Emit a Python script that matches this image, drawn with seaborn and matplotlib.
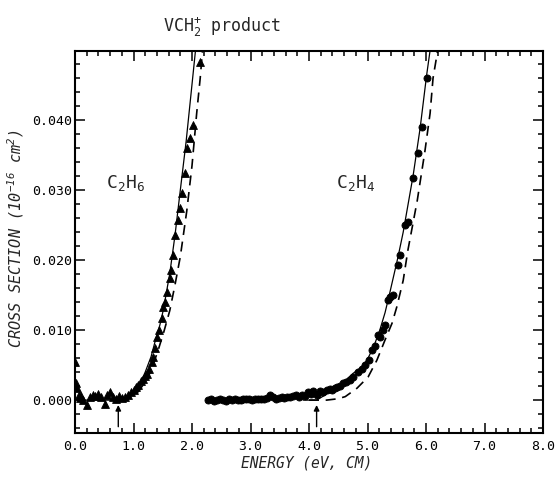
import numpy as np
import pandas as pd
import matplotlib
matplotlib.use("Agg")
import matplotlib.pyplot as plt
import seaborn as sns
from matplotlib.ticker import MultipleLocator

# ---- data ----
# C2H6 data (triangles)
x6 = [0.00, 0.02, 0.04, 0.06, 0.08, 0.10, 0.14, 0.20, 0.25, 0.30, 0.35, 0.40, 0.45, 0.51, 0.55,
      0.60, 0.65, 0.70, 0.75, 0.80, 0.85, 0.90, 0.95, 1.00, 1.04, 1.08, 1.12, 1.16, 1.20, 1.23,
      1.27, 1.31, 1.34, 1.37, 1.40, 1.44, 1.48, 1.51, 1.54, 1.58, 1.62, 1.64, 1.68, 1.71, 1.76,
      1.80, 1.83, 1.88, 1.91, 1.97, 2.02, 2.14]
y6 = [0.0054, 0.0025, 0.0018, 0.0008, 0.0003, 0.0006, 0.0000, -0.0007, 0.0005, 0.0008, 0.0006,
      0.0009, 0.0005, -0.0005, 0.0007, 0.0011, 0.0005, 0.0002, 0.0006, 0.0003, 0.0004, 0.0007,
      0.0012, 0.0014, 0.0019, 0.0022, 0.0027, 0.0030, 0.0034, 0.0038, 0.0045, 0.0054, 0.0062,
      0.0075, 0.0090, 0.0100, 0.0118, 0.0133, 0.0140, 0.0155, 0.0174, 0.0186, 0.0207, 0.0236,
      0.0257, 0.0275, 0.0296, 0.0324, 0.0361, 0.0374, 0.0393, 0.0483]

# C2H4 data (circles)
x4 = [2.28, 2.33, 2.38, 2.43, 2.48, 2.53, 2.58, 2.63, 2.68, 2.73, 2.78, 2.83, 2.88, 2.93, 2.98,
      3.03, 3.08, 3.13, 3.18, 3.23, 3.28, 3.33, 3.38, 3.43, 3.48, 3.53, 3.58, 3.63, 3.68, 3.73,
      3.78, 3.83, 3.88, 3.93, 3.98, 4.03, 4.07, 4.13, 4.18, 4.24, 4.30, 4.36, 4.39, 4.44, 4.48,
      4.53, 4.58, 4.64, 4.70, 4.76, 4.84, 4.90, 4.96, 5.02, 5.08, 5.13, 5.18, 5.21, 5.26, 5.30,
      5.35, 5.38, 5.44, 5.52, 5.56, 5.64, 5.69, 5.78, 5.86, 5.93, 6.02]
y4 = [0.0000, 0.0001, -0.0001, 0.0000, 0.0001, 0.0000, -0.0001, 0.0001, 0.0000, 0.0001,
      0.0000, 0.0000, 0.0001, 0.0002, 0.0001, 0.0000, 0.0001, 0.0002, 0.0001, 0.0002,
      0.0003, 0.0007, 0.0004, 0.0002, 0.0003, 0.0004, 0.0003, 0.0005, 0.0004, 0.0006,
      0.0008, 0.0005, 0.0007, 0.0006, 0.0011, 0.0009, 0.0013, 0.0008, 0.0013, 0.0011,
      0.0015, 0.0016, 0.0014, 0.0017, 0.0019, 0.0020, 0.0024, 0.0026, 0.0029, 0.0033,
      0.0040, 0.0044, 0.0050, 0.0058, 0.0071, 0.0078, 0.0093, 0.0090, 0.0100, 0.0107,
      0.0143, 0.0147, 0.0150, 0.0193, 0.0207, 0.0250, 0.0254, 0.0317, 0.0353, 0.0390, 0.0461]

# model curves (solid and dashed)
fit6_solid_x = [0.00, 0.76, 0.85, 0.95, 1.06, 1.20, 1.30, 1.37, 1.45, 1.51, 1.62, 1.71, 1.80, 1.90, 1.98, 2.06]
fit6_solid_y = [0.0, 0.0, 0.0002, 0.0006, 0.0014, 0.0040, 0.0062, 0.0084, 0.0107, 0.0129, 0.0181,
                0.0236, 0.0300, 0.0370, 0.0435, 0.0500]
fit6_dash_x = [0.80, 0.90, 1.06, 1.23, 1.32, 1.42, 1.52, 1.62, 1.71, 1.80, 1.91, 2.00, 2.08, 2.14, 2.18]
fit6_dash_y = [0.0, 0.0002, 0.0010, 0.0029, 0.0047, 0.0071, 0.0098, 0.0128, 0.0165, 0.0205,
               0.0270, 0.0335, 0.0410, 0.0460, 0.0500]
fit4_solid_x = [3.90, 4.13, 4.25, 4.48, 4.62, 4.75, 4.88, 4.99, 5.10, 5.21, 5.30, 5.38, 5.52,
                5.61, 5.78, 5.90, 6.01, 6.07]
fit4_solid_y = [0.0, 0.0, 0.0006, 0.0019, 0.0028, 0.0038, 0.0046, 0.0057, 0.0075, 0.0100,
                0.0125, 0.0153, 0.0204, 0.0240, 0.0321, 0.0389, 0.0464, 0.0500]
fit4_dash_x = [4.00, 4.30, 4.50, 4.62, 4.82, 5.01, 5.16, 5.30, 5.42, 5.50, 5.61, 5.69, 5.85,
               5.98, 6.07, 6.12, 6.20]
fit4_dash_y = [0.0, 0.0, 0.0002, 0.0005, 0.0017, 0.0033, 0.0057, 0.0086, 0.0110, 0.0133,
               0.0171, 0.0214, 0.0285, 0.0355, 0.0410, 0.0460, 0.0500]

thresholds = [0.74, 4.13]

xticks = [0, 1, 2, 3, 4, 5, 6, 7, 8]
xticklabels = ["0.0", "1.0", "2.0", "3.0", "4.0", "5.0", "6.0", "7.0", "8.0"]
yticks = [0.0, 0.01, 0.02, 0.03, 0.04]
yticklabels = ["0.000", "0.010", "0.020", "0.030", "0.040"]

# ---- style ----
sns.set_style("ticks")
plt.rcParams["font.family"] = ["DejaVu Sans Mono", "DejaVu Sans"]
plt.rcParams["mathtext.default"] = "regular"

fig = plt.figure(figsize=(5.59, 4.86), dpi=100)
ax = fig.add_axes([75 / 559, 1 - 433 / 486, (543 - 75) / 559, (433 - 51) / 486])

d6 = pd.DataFrame({"E": x6, "S": y6})
d4 = pd.DataFrame({"E": x4, "S": y4})

sns.lineplot(x=fit6_solid_x, y=fit6_solid_y, ax=ax, color="k", lw=0.9, sort=False, estimator=None)
sns.lineplot(x=fit4_solid_x, y=fit4_solid_y, ax=ax, color="k", lw=0.9, sort=False, estimator=None)
ax.plot(fit6_dash_x, fit6_dash_y, color="k", lw=1.2, dashes=(6, 4))
ax.plot(fit4_dash_x, fit4_dash_y, color="k", lw=1.2, dashes=(6, 4))

sns.scatterplot(data=d6, x="E", y="S", ax=ax, marker="^", s=32, color="k", edgecolor="k",
                linewidth=0.6, zorder=3)
sns.scatterplot(data=d4, x="E", y="S", ax=ax, marker="o", s=26, color="k", edgecolor="k",
                linewidth=0.6, zorder=3)

for t in thresholds:
    ax.annotate("", xy=(t, -0.0007), xytext=(t, -0.0038),
                arrowprops=dict(arrowstyle="-|>", color="k", lw=1.0, mutation_scale=8,
                                shrinkA=0, shrinkB=0))

ax.set_xlim(0, 8)
ax.set_ylim(-0.0047, 0.0499)
ax.set_xticks(xticks)
ax.set_xticklabels(xticklabels)
ax.set_yticks(yticks)
ax.set_yticklabels(yticklabels)
ax.xaxis.set_minor_locator(MultipleLocator(0.2))
ax.yaxis.set_minor_locator(MultipleLocator(0.002))
ax.tick_params(which="both", direction="in", top=True, right=True, width=1.1, colors="k",
               labelsize=9.5)
ax.tick_params(which="major", length=7)
ax.tick_params(which="minor", length=3.5)
ax.tick_params(axis="x", pad=5)
ax.tick_params(axis="y", pad=2)
for s in ax.spines.values():
    s.set_linewidth(1.5)
    s.set_color("k")

ax.set_xlabel("ENERGY (eV, CM)", fontstyle="italic", fontsize=10.5)
ax.set_ylabel("CROSS SECTION (10$^{-16}$ cm$^{2}$)", fontstyle="italic", fontsize=11)
ax.xaxis.set_label_coords(0.494, -0.06)
ax.yaxis.set_label_coords(-0.105, 0.51)

ax.text(0.87, 0.031, "C$_{2}$H$_{6}$", fontsize=13, ha="center", va="center")
ax.text(4.80, 0.031, "C$_{2}$H$_{4}$", fontsize=13, ha="center", va="center")
fig.text(163 / 559, 1 - 27 / 486, "VCH$_{2}^{+}$ product", fontsize=12, ha="left", va="center")

fig.savefig("out.png", dpi=100)
